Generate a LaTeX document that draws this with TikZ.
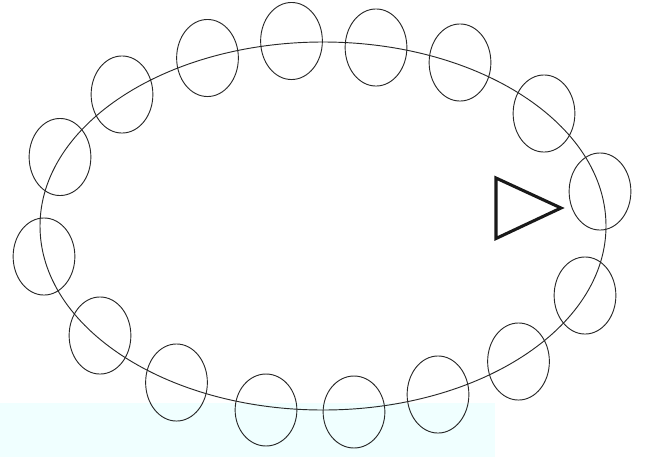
\documentclass[tikz,border=0pt]{standalone}
\usetikzlibrary{shapes.geometric}
\definecolor{lightcyan}{RGB}{240,255,255}
\definecolor{strokegray}{RGB}{40,40,40}
\begin{document}
\begin{tikzpicture}[x=0.75pt,y=-0.75pt,
  bead/.style={draw=strokegray,ellipse,line width=0.7pt,inner sep=0pt,minimum width=46.3pt,minimum height=57.8pt},
  beadlow/.style={bead,minimum height=54pt},
  ring/.style={draw=strokegray,line width=0.7pt},
  tri/.style={draw=black!90,line width=2.3pt,line join=miter}]
\useasboundingbox (0,0) rectangle (652,457);
\fill[lightcyan] (0,403) rectangle (495,457);
\draw[ring] (323,226) ellipse [x radius=283, y radius=184];
\node[bead] (b1) at (44,256.5) {};
\node[bead] (b2) at (60,157) {};
\node[bead] (b3) at (122,94.5) {};
\node[bead] (b4) at (207.5,58) {};
\node[bead] (b5) at (291.5,41) {};
\node[bead] (b6) at (376,47.5) {};
\node[bead] (b7) at (460,62.5) {};
\node[bead] (b8) at (544,113.5) {};
\node[bead] (b9) at (600,191.5) {};
\node[bead] (b10) at (585,295.5) {};
\node[bead] (b11) at (518.5,361.5) {};
\node[bead] (b12) at (438,394.5) {};
\node[beadlow] (b13) at (354,412) {};
\node[beadlow] (b14) at (266,410) {};
\node[bead] (b15) at (176.5,382.5) {};
\node[bead] (b16) at (100,335.5) {};
\coordinate (t1) at (496,178);
\coordinate (t2) at (561,208);
\coordinate (t3) at (496,238.5);
\draw[tri] (t1) -- (t2) -- (t3) -- cycle;
\end{tikzpicture}
\end{document}
